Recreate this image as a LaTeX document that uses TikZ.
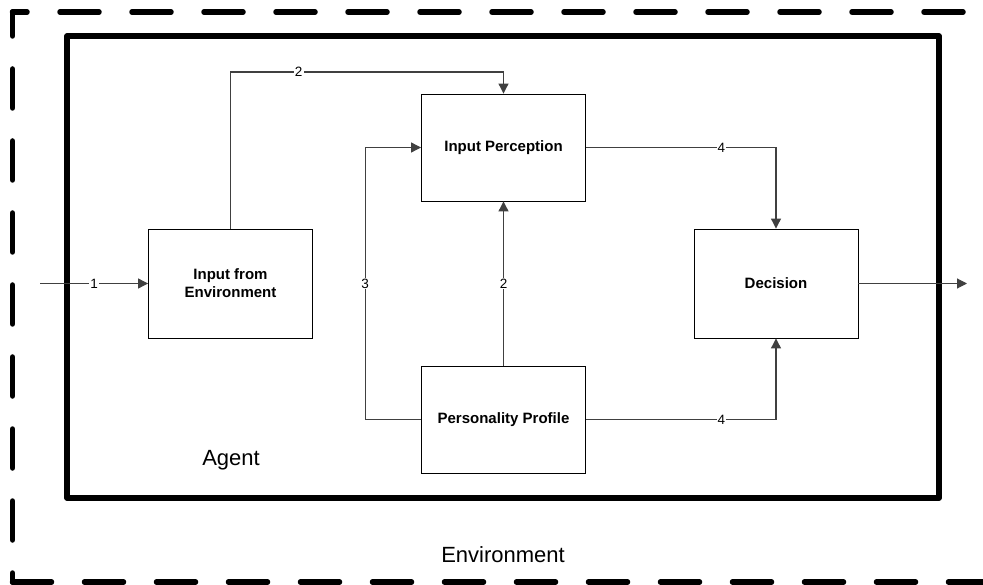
\documentclass[tikz,border=0pt]{standalone}
\usepackage{fontspec}
\setmainfont{Liberation Sans}
\usetikzlibrary{arrows.meta}
\begin{document}
\begin{tikzpicture}[x=1pt,y=-1pt,
  box/.style={draw=black, line width=0.9pt, minimum width=164pt, minimum height=107pt, inner sep=0pt, align=center, font=\fontsize{15}{18}\selectfont\bfseries},
  conn/.style={draw=black!75, line width=1.1pt},
  arr/.style={conn, -{Triangle[length=10pt,width=10pt]}},
  lbl/.style={fill=white, inner sep=1pt, font=\fontsize{13.5}{15}\selectfont},
  envline/.style={line width=5.5pt, line cap=round, dash pattern=on 39pt off 33pt},
  bigtext/.style={anchor=base, font=\fontsize{22}{26}\selectfont}
]
\fill[white] (0,0) rectangle (983,585);
\useasboundingbox (0,0) rectangle (983,585);

% environment (dashed) border
\draw[envline, dash phase=30pt] (12.5,582) -- (12.5,12);
\draw[envline, dash phase=24.5pt] (12.5,12) -- (1000,12);
\draw[envline] (12.5,582) -- (1000,582);

% agent border
\draw[line width=5.5pt, line join=round] (67,36) rectangle (939,498);

% boxes
\node[box, minimum height=109pt] (ife) at (230.5,283.5) {Input from\\Environment};
\node[box] (ip) at (503.5,147.5) {Input Perception};
\node[box] (pp) at (503.5,419.5) {Personality Profile};
\node[box, minimum height=109pt] (dec) at (776,283.5) {Decision};

% free ends
\coordinate (in) at (40,283.5);
\coordinate (out) at (967,283.5);

% connectors
\draw[arr] (in) -- node[lbl]{1} (ife.west);
\draw[arr] (ife.north) -- (ife.north |- 0,72) -- node[lbl,pos=0.25]{2} (ip.north |- 0,72) -- (ip.north);
\draw[arr] (pp.west) -| node[lbl,pos=0.75]{3} ([xshift=-56pt]ip.west) -- (ip.west);
\draw[arr] (pp.north) -- node[lbl]{2} (ip.south);
\draw[arr] (ip.east) -| node[lbl,pos=0.356]{4} (dec.north);
\draw[arr] (pp.east) -| node[lbl,pos=0.356]{4} (dec.south);
\draw[arr] (dec.east) -- (out);

% labels
\node[bigtext] (agent) at (231,465) {Agent};
\node[bigtext] (env) at (503,562) {Environment};
\end{tikzpicture}
\end{document}
